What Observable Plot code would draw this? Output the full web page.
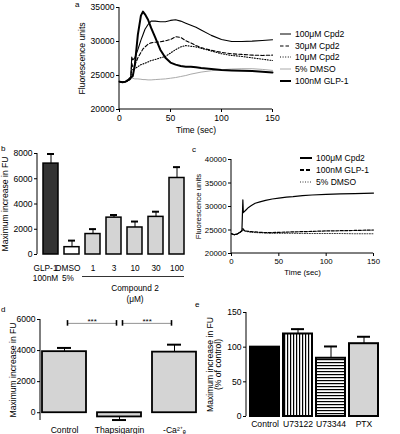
<!DOCTYPE html>
<html><head><meta charset="utf-8">
<script src="https://cdn.jsdelivr.net/npm/d3@7"></script>
<script src="https://cdn.jsdelivr.net/npm/@observablehq/plot@0.6"></script>
<style>
body{margin:0;background:#fff;}
#wrap{position:relative;width:400px;height:434px;overflow:hidden;font-family:"Liberation Sans",Arial,Helvetica,sans-serif;color:#000;background:#fff;}
.lbl{position:absolute;font-size:8px;line-height:10px;}
.leg{position:absolute;height:10px;font-size:8.6px;line-height:10px;white-space:nowrap;display:flex;align-items:center;}
.leg svg{display:block;margin-right:4px;}
</style></head>
<body>
<svg width="0" height="0" style="position:absolute">
<defs>
<pattern id="vstripe" patternUnits="userSpaceOnUse" width="3" height="3"><rect width="3" height="3" fill="#fff"/><rect width="1.2" height="3" fill="#000"/></pattern>
<pattern id="hstripe" patternUnits="userSpaceOnUse" width="3" height="3"><rect width="3" height="3" fill="#fff"/><rect width="3" height="1.2" fill="#000"/></pattern>
</defs></svg>
<div id="wrap"></div>
<script>
// ---------- data ----------
const seriesA = ["100μM Cpd2","30μM Cpd2","10μM Cpd2","5% DMSO","100nM GLP-1"];
const timeA = [0,3,6,9,11,12,13,15,18,21,23,25,28,31,35,40,45,50,55,60,65,70,75,80,90,100,110,120,130,140,150];
const cpd100A = [24100,24000,24100,24300,24600,27700,27300,27600,28800,30200,31000,31800,32500,33000,33000,32900,32900,33100,33200,33000,32700,32400,32100,31700,30900,30300,30000,30000,30050,30150,30250];
const cpd30A = [24100,24000,24100,24300,24600,26800,26300,26500,27600,28400,28900,29200,29600,29800,29900,29950,30100,30300,30700,30600,30100,29800,29400,29100,28700,28400,28200,28100,28000,27950,28000];
const cpd10A = [24100,24000,24100,24300,24500,25800,25900,26000,26300,26600,26700,26800,27000,27200,27350,27600,27800,28300,28800,29200,29400,29300,29200,29000,28600,28200,27950,27800,27600,27400,27200];
const dmsoA = [24100,24000,24100,24300,24400,24600,24600,24500,24500,24450,24400,24400,24350,24350,24400,24450,24500,24600,24700,24850,25000,25200,25350,25500,25700,25850,25950,26000,26000,25900,25750];
const glp1A = [24100,24000,24100,24400,24700,24800,24900,26500,31000,33800,34400,34000,33200,32000,30600,28800,27600,26900,26600,26400,26300,26300,26200,26100,25950,25800,25750,25700,25650,25550,25450];
const ticksA_y = [20000,25000,30000,35000];
const ticksTime = [0,50,100,150];

const catsB = ["GLP-1","DMSO","1","3","10","30","100"];
const tickLabelsB = ["GLP-1\n100nM","DMSO\n5%","1","3","10","30","100"];
const valuesB = [7200,580,1620,2920,2140,2980,6060];
const errB = [760,520,390,210,470,410,860];
const ticksB_y = [0,2000,4000,6000,8000];
const groupB = [{from:"1", to:"100", mid:"10", label:"Compound 2\n(μM)"}];

const seriesC = ["100μM Cpd2","100nM GLP-1","5% DMSO"];
const timeC = [0,3,6,9,11,12,12.5,13,15,18,21,25,30,36,43,50,58,65,75,85,100,115,130,150];
const cpd2C = [24200,24000,24150,24500,24800,31400,28700,28800,29200,29800,30200,30700,31000,31300,31600,31800,32000,32100,32300,32450,32600,32700,32750,32850];
const glp1C = [24200,24000,24150,24500,24900,25300,25200,25000,24800,24700,24650,24600,24500,24450,24450,24500,24550,24600,24650,24700,24800,24850,24900,25000];
const dmsoC = [24200,24000,24150,24500,24800,25000,24900,24800,24700,24600,24500,24450,24400,24350,24300,24300,24300,24300,24250,24250,24250,24250,24200,24200];
const ticksC_y = [20000,25000,30000,35000,40000];

const catsD = ["Control","Thapsigargin","-Ca"];
const tickLabelsD = ["Control","Thapsigargin","-Ca²⁺ₑ"];
const valuesD = [3930,-270,3900];
const errD = [240,-200,480];
const ticksD_y = [0,2000,4000,6000];
const sigD = [{from:"Control", to:"Thapsigargin", label:"***"},{from:"Thapsigargin", to:"-Ca", label:"***"}];
const sigLevelD = 5750;

const catsE = ["Control","U73122","U73344","PTX"];
const valuesE = [100,119,84,105];
const errE = [0,7,17,10];
const ticksE_y = [0,50,100,150];

// ---------- helpers ----------
const FONT = '"Liberation Sans", Arial, Helvetica, sans-serif';
const wrap = document.getElementById("wrap");
const NS = "http://www.w3.org/2000/svg";
const baseStyle = {fontFamily: FONT, fontSize: "8.6px", background: "transparent", color: "#000", overflow: "visible"};
function axisLines(bottom) {
  return (index, scales, values, dims) => {
    const {width, height, marginLeft, marginRight, marginTop, marginBottom} = dims;
    const g = document.createElementNS(NS, "g");
    const add = (x1, y1, x2, y2) => {
      const l = document.createElementNS(NS, "line");
      l.setAttribute("x1", x1); l.setAttribute("y1", y1); l.setAttribute("x2", x2); l.setAttribute("y2", y2);
      l.setAttribute("stroke", "#000"); l.setAttribute("stroke-width", 1);
      g.appendChild(l);
    };
    add(marginLeft, marginTop, marginLeft, height - marginBottom);
    if (bottom) add(marginLeft, height - marginBottom, width - marginRight, height - marginBottom);
    return g;
  };
}
function place(el, left, top) {
  el.style.position = "absolute"; el.style.left = left + "px"; el.style.top = top + "px";
  wrap.appendChild(el);
}
function letter(t, left, top) {
  const d = document.createElement("div"); d.className = "lbl"; d.textContent = t;
  d.style.left = left + "px"; d.style.top = top + "px"; wrap.appendChild(d);
}
function legendRow(name, st, left, yc, fs) {
  const d = document.createElement("div"); d.className = "leg";
  d.style.left = left + "px"; d.style.top = (yc - 5) + "px";
  if (fs) d.style.fontSize = fs + "px";
  const s = document.createElementNS(NS, "svg"); s.setAttribute("width", st.len); s.setAttribute("height", 10);
  const l = document.createElementNS(NS, "line");
  l.setAttribute("x1", 0); l.setAttribute("x2", st.len); l.setAttribute("y1", 5); l.setAttribute("y2", 5);
  l.setAttribute("stroke", st.stroke); l.setAttribute("stroke-width", st.w);
  if (st.dash) l.setAttribute("stroke-dasharray", st.dash);
  s.appendChild(l); d.appendChild(s);
  const sp = document.createElement("span"); sp.textContent = name; d.appendChild(sp);
  wrap.appendChild(d);
}
const fmt = d => String(d);

// ---------- panel a ----------
const valsA = [cpd100A, cpd30A, cpd10A, dmsoA, glp1A];
const dataA = seriesA.flatMap((s, k) => timeA.map((t, i) => ({series: s, t, v: valsA[k][i]})));
const styleA = {
  "100μM Cpd2": {stroke: "#000", strokeWidth: 1.1},
  "30μM Cpd2": {stroke: "#000", strokeWidth: 1.1, strokeDasharray: "3.5,2"},
  "10μM Cpd2": {stroke: "#000", strokeWidth: 1.1, strokeDasharray: "1,1.6"},
  "5% DMSO": {stroke: "#aaa", strokeWidth: 1},
  "100nM GLP-1": {stroke: "#000", strokeWidth: 2}
};
const drawOrderA = ["5% DMSO","10μM Cpd2","30μM Cpd2","100μM Cpd2","100nM GLP-1"];
const plotA = Plot.plot({
  width: 400, height: 140, marginLeft: 119, marginRight: 128, marginTop: 7, marginBottom: 31,
  style: baseStyle,
  x: {domain: [0,150], ticks: ticksTime, tickSize: 3, tickPadding: 2, tickFormat: fmt, label: "Time (sec)", labelAnchor: "center", labelArrow: "none", labelOffset: 23},
  y: {domain: [20000,35000], ticks: ticksA_y, tickSize: 3, tickPadding: 2, tickFormat: fmt, label: "Fluorescence units", labelAnchor: "center", labelArrow: "none", labelOffset: 41},
  marks: [
    axisLines(true),
    ...drawOrderA.map(s => Plot.line(dataA.filter(d => d.series === s), {x: "t", y: "v", ...styleA[s], strokeLinejoin: "round"}))
  ]
});
place(plotA, 0, 0);
const legYA = [34, 46, 57, 69, 81];
seriesA.forEach((s, i) => legendRow(s, {len: 11, stroke: styleA[s].stroke, w: styleA[s].strokeWidth === 2 ? 2 : 1, dash: styleA[s].strokeDasharray}, 280, legYA[i]));

// ---------- panel b ----------
const dataB = catsB.map((c, i) => ({cat: c, v: valuesB[i], top: valuesB[i] + errB[i]}));
const labB = new Map(catsB.map((c, i) => [c, tickLabelsB[i]]));
const axisOptsB = {tickFormat: d => labB.get(d), tickSize: 0, tickPadding: 9, label: null, lineHeight: 1.2, fontSize: 8.3};
const plotB = Plot.plot({
  width: 200, height: 160, marginLeft: 37, marginRight: 10, marginTop: 8, marginBottom: 51,
  style: baseStyle,
  x: {domain: catsB, paddingInner: 0.29, paddingOuter: 0.145, label: null},
  y: {domain: [0,8000], ticks: ticksB_y, tickSize: 3, tickPadding: 2, tickFormat: fmt, label: "Maximum increase in FU", labelAnchor: "center", labelArrow: "none", labelOffset: 36},
  color: {domain: catsB, range: ["#333333","#ffffff","#d4d4d4","#d4d4d4","#d4d4d4","#d4d4d4","#d4d4d4"]},
  marks: [
    axisLines(false),
    Plot.axisX([catsB[0]], {...axisOptsB, dx: -5.5}),
    Plot.axisX([catsB[1]], {...axisOptsB, dx: -4}),
    Plot.axisX(catsB.slice(2), axisOptsB),
    Plot.ruleX(dataB, {x: "cat", y1: "v", y2: "top", stroke: "#000", strokeWidth: 1}),
    Plot.tickY(dataB, {x: "cat", y: "top", stroke: "#000", strokeWidth: 2, inset: 4}),
    Plot.barY(dataB, {x: "cat", y: "v", fill: "cat", stroke: "#000", strokeWidth: 1.5}),
    Plot.ruleY(groupB, {x1: "from", x2: "to", y: () => 0, dy: 22, insetLeft: -3, stroke: "#000", strokeWidth: 0.8}),
    Plot.text(groupB, {x: "mid", y: () => 0, text: "label", dy: 29, lineAnchor: "top", lineHeight: 1.3, fontSize: 8.3})
  ]
});
place(plotB, 0, 145);

// ---------- panel c ----------
const valsC = [cpd2C, glp1C, dmsoC];
const dataC = seriesC.flatMap((s, k) => timeC.map((t, i) => ({series: s, t, v: valsC[k][i]})));
const styleC = {
  "100μM Cpd2": {stroke: "#000", strokeWidth: 1.2},
  "100nM GLP-1": {stroke: "#000", strokeWidth: 1.2, strokeDasharray: "3,1.5"},
  "5% DMSO": {stroke: "#000", strokeWidth: 0.8, strokeDasharray: "1,1.5"}
};
const plotC = Plot.plot({
  width: 210, height: 130, marginLeft: 41, marginRight: 27, marginTop: 9, marginBottom: 27,
  style: {...baseStyle, fontSize: "7.8px"},
  x: {domain: [0,150], ticks: ticksTime, tickSize: 3, tickPadding: 2, tickFormat: fmt, label: "Time (sec)", labelAnchor: "center", labelArrow: "none", labelOffset: 21},
  y: {domain: [20000,40000], ticks: ticksC_y, tickSize: 3, tickPadding: 2, tickFormat: fmt, label: "Fluorescence units", labelAnchor: "center", labelArrow: "none", labelOffset: 36},
  marks: [
    axisLines(true),
    ...["5% DMSO","100nM GLP-1","100μM Cpd2"].map(s => Plot.line(dataC.filter(d => d.series === s), {x: "t", y: "v", ...styleC[s], strokeLinejoin: "round"}))
  ]
});
place(plotC, 190, 150);
const legStyleC = {
  "100μM Cpd2": {len: 12, stroke: "#000", w: 2},
  "100nM GLP-1": {len: 12, stroke: "#000", w: 2, dash: "4,2"},
  "5% DMSO": {len: 12, stroke: "#000", w: 0.8, dash: "1,1.5"}
};
const legYC = [158, 170, 182];
seriesC.forEach((s, i) => legendRow(s, legStyleC[s], 300, legYC[i], 8.5));

// ---------- panel d ----------
const dataD = catsD.map((c, i) => ({cat: c, v: valuesD[i], top: valuesD[i] + errD[i]}));
const labD = new Map(catsD.map((c, i) => [c, tickLabelsD[i]]));
const plotD = Plot.plot({
  width: 200, height: 124, marginLeft: 40, marginRight: 3, marginTop: 9, marginBottom: 14,
  style: baseStyle,
  x: {domain: catsD, paddingInner: 0.2, paddingOuter: 0.02, tickSize: 0, tickPadding: 6, tickFormat: d => labD.get(d), label: null},
  y: {domain: [-500,6000], ticks: ticksD_y, tickSize: 3, tickPadding: 2, tickFormat: fmt, label: "Maximum increase in FU", labelAnchor: "center", labelArrow: "none", labelOffset: 31},
  marks: [
    axisLines(false),
    Plot.ruleX(dataD, {x: "cat", y1: "v", y2: "top", stroke: "#000", strokeWidth: 1}),
    Plot.tickY(dataD, {x: "cat", y: "top", stroke: "#000", strokeWidth: 2, inset: 15}),
    Plot.barY(dataD, {x: "cat", y: "v", fill: "#d4d4d4", stroke: "#000", strokeWidth: 1.8}),
    Plot.ruleY(sigD, {x1: "from", x2: "to", y: () => sigLevelD, insetLeft: 25, insetRight: 25, stroke: "#777", strokeWidth: 0.8}),
    Plot.ruleX(sigD, {x: "from", y1: () => sigLevelD - 180, y2: () => sigLevelD + 180, dx: 3, stroke: "#000", strokeWidth: 1.6}),
    Plot.ruleX(sigD, {x: "to", y1: () => sigLevelD - 180, y2: () => sigLevelD + 180, dx: -3, stroke: "#000", strokeWidth: 1.6}),
    Plot.text(sigD, {x: "from", y: () => sigLevelD, text: "label", dx: 27.6, dy: -2, lineAnchor: "middle", fontSize: 8})
  ]
});
place(plotD, 0, 310);

// ---------- panel e ----------
const dataE = catsE.map((c, i) => ({cat: c, v: valuesE[i], top: valuesE[i] + errE[i], hasErr: errE[i] > 0}));
const plotE = Plot.plot({
  width: 200, height: 129, marginLeft: 46, marginRight: 18, marginTop: 7, marginBottom: 18,
  style: baseStyle,
  x: {domain: catsE, padding: 0.12, tickSize: 0, tickPadding: 4, label: null},
  y: {domain: [0,150], ticks: ticksE_y, tickSize: 3, tickPadding: 2, tickFormat: fmt, label: "Maximum increase in FU\n(% of control)", labelAnchor: "center", labelArrow: "none", labelOffset: 40},
  color: {domain: catsE, range: ["#000000","url(#vstripe)","url(#hstripe)","#d4d4d4"]},
  marks: [
    axisLines(false),
    Plot.ruleX(dataE.filter(d => d.hasErr), {x: "cat", y1: "v", y2: "top", stroke: "#000", strokeWidth: 1}),
    Plot.tickY(dataE.filter(d => d.hasErr), {x: "cat", y: "top", stroke: "#000", strokeWidth: 2, inset: 8}),
    Plot.barY(dataE, {x: "cat", y: "v", fill: "cat", stroke: "#000", strokeWidth: 2})
  ]
});
place(plotE, 200, 305);

// ---------- panel letters ----------
letter("a", 75, 0);
letter("b", 1, 144);
letter("c", 192, 145);
letter("d", 1, 305);
letter("e", 195, 300);
</script>
</body></html>
